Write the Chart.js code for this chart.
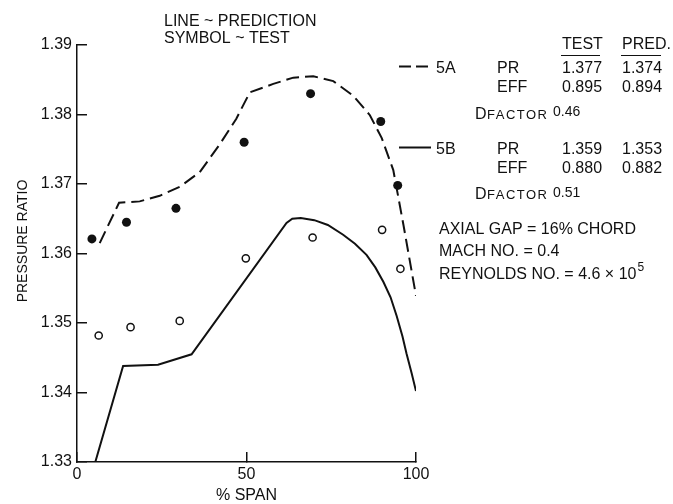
<!DOCTYPE html>
<html>
<head>
<meta charset="utf-8">
<script src="https://cdn.jsdelivr.net/npm/chart.js@4.4.0/dist/chart.umd.min.js"></script>
<style>
  html, body { margin: 0; padding: 0; background: #fff; }
  #wrap { width: 673px; height: 504px; }
</style>
</head>
<body>
<div id="wrap"><canvas id="prChart" width="673" height="504"></canvas></div>
<script>
// values: % span vs pressure ratio
const testSpan5A = [4.4, 14.6, 29.2, 49.3, 68.9, 89.6, 94.6];
const testPR5A = [1.3621, 1.3645, 1.3665, 1.3760, 1.3830, 1.3790, 1.3698];

const testSpan5B = [6.4, 15.8, 30.3, 49.8, 69.5, 90.0, 95.4];
const testPR5B = [1.3482, 1.3494, 1.3503, 1.3593, 1.3623, 1.3634, 1.3578];

const predSpan5A = [6.7, 12.4, 18.5, 24.4, 30.3, 36.2, 42.1, 47.0, 51.0, 57.9, 63.8, 69.7, 75.6, 81.5, 86.4, 89.9, 93.3, 96.3, 100];
const predPR5A = [1.3615, 1.3673, 1.3675, 1.3683, 1.3696, 1.3717, 1.3757, 1.3794, 1.3832, 1.3844, 1.3853, 1.3855, 1.3848, 1.3827, 1.3799, 1.3766, 1.3720, 1.3641, 1.3539];

const predSpan5B = [5.4, 13.6, 23.9, 33.8, 61.8, 63.5, 66.0, 70.0, 74.0, 78.5, 82.0, 85.4, 88.0, 90.4, 92.5, 94.3, 96.0, 97.2, 98.7, 100];
const predPR5B = [1.3300, 1.3438, 1.3440, 1.3455, 1.3644, 1.3650, 1.3651, 1.3648, 1.3641, 1.3627, 1.3614, 1.3598, 1.3580, 1.3559, 1.3537, 1.3510, 1.3481, 1.3456, 1.3428, 1.3402];

const spanTicks = [0, 50, 100];
const prTicks = [1.33, 1.34, 1.35, 1.36, 1.37, 1.38, 1.39];

const FONT = '"Liberation Sans", Arial, sans-serif';
const INK = '#111';

function pts(xs, ys) {
  return xs.map((x, i) => ({ x: x, y: ys[i] }));
}

function txt(ctx, s, x, y, size, align, spacing) {
  ctx.font = size + 'px ' + FONT;
  ctx.textAlign = align || 'left';
  ctx.letterSpacing = (spacing || 0) + 'px';
  ctx.fillText(s, x, y);
  ctx.letterSpacing = '0px';
}

function dFactor(ctx, value, baseline) {
  txt(ctx, 'D', 475, baseline, 16);
  txt(ctx, 'FACTOR', 487, baseline, 13, 'left', 1.5);
  txt(ctx, value, 553, baseline - 2.5, 14);
}

// text blocks around the plot
const annotations = {
  id: 'annotations',
  afterDraw(chart) {
    const ctx = chart.ctx;
    const xs = chart.scales.x;
    ctx.save();
    ctx.fillStyle = INK;
    ctx.strokeStyle = INK;
    ctx.textBaseline = 'alphabetic';

    txt(ctx, '% SPAN', (xs.left + xs.right) / 2, 500, 16, 'center');
    ctx.save();
    ctx.translate(27, 241);
    ctx.rotate(-Math.PI / 2);
    txt(ctx, 'PRESSURE RATIO', 0, 0, 14, 'center');
    ctx.restore();

    txt(ctx, 'LINE ~ PREDICTION', 164, 26, 16);
    txt(ctx, 'SYMBOL ~ TEST', 164, 42.5, 16);

    // table header
    txt(ctx, 'TEST', 562, 49, 16);
    txt(ctx, 'PRED.', 622, 49, 16);
    ctx.lineWidth = 1;
    ctx.beginPath();
    ctx.moveTo(561, 55.5); ctx.lineTo(600, 55.5);
    ctx.moveTo(621, 55.5); ctx.lineTo(661, 55.5);
    ctx.stroke();

    // 5A
    ctx.lineWidth = 2;
    ctx.setLineDash([12, 5]);
    ctx.beginPath();
    ctx.moveTo(399, 66.5); ctx.lineTo(431, 66.5);
    ctx.stroke();
    ctx.setLineDash([]);
    txt(ctx, '5A', 436, 72.5, 16);
    txt(ctx, 'PR', 497, 72.5, 16);
    txt(ctx, '1.377', 562, 72.5, 16);
    txt(ctx, '1.374', 622, 72.5, 16);
    txt(ctx, 'EFF', 497, 91.5, 16);
    txt(ctx, '0.895', 562, 91.5, 16);
    txt(ctx, '0.894', 622, 91.5, 16);
    dFactor(ctx, '0.46', 118.5);

    // 5B
    ctx.beginPath();
    ctx.moveTo(399, 147.5); ctx.lineTo(431, 147.5);
    ctx.stroke();
    txt(ctx, '5B', 436, 153.5, 16);
    txt(ctx, 'PR', 497, 153.5, 16);
    txt(ctx, '1.359', 562, 153.5, 16);
    txt(ctx, '1.353', 622, 153.5, 16);
    txt(ctx, 'EFF', 497, 172.5, 16);
    txt(ctx, '0.880', 562, 172.5, 16);
    txt(ctx, '0.882', 622, 172.5, 16);
    dFactor(ctx, '0.51', 199);

    // test conditions
    txt(ctx, 'AXIAL GAP = 16% CHORD', 439, 233.5, 16);
    txt(ctx, 'MACH NO. = 0.4', 439, 256, 16);
    const rey = 'REYNOLDS NO. = 4.6 \u00d7 10';
    txt(ctx, rey, 439, 278.5, 16);
    ctx.font = '16px ' + FONT;
    const w = ctx.measureText(rey).width;
    txt(ctx, '5', 439 + w + 1, 271, 12);

    ctx.restore();
  }
};

new Chart(document.getElementById('prChart'), {
  type: 'scatter',
  data: {
    datasets: [
      {
        label: '5A pred',
        data: pts(predSpan5A, predPR5A),
        showLine: true,
        borderColor: INK,
        borderWidth: 2,
        borderDash: [13, 6],
        pointRadius: 0,
        tension: 0
      },
      {
        label: '5B pred',
        data: pts(predSpan5B, predPR5B),
        showLine: true,
        borderColor: INK,
        borderWidth: 2,
        pointRadius: 0,
        tension: 0
      },
      {
        label: '5A test',
        data: pts(testSpan5A, testPR5A),
        pointRadius: 4.5,
        backgroundColor: INK,
        borderColor: INK,
        borderWidth: 0
      },
      {
        label: '5B test',
        data: pts(testSpan5B, testPR5B),
        pointRadius: 3.6,
        backgroundColor: '#fff',
        borderColor: INK,
        borderWidth: 1.5
      }
    ]
  },
  options: {
    responsive: false,
    animation: false,
    events: [],
    layout: { padding: { top: 45, right: 257, left: 0, bottom: 0 } },
    plugins: {
      legend: { display: false },
      tooltip: { enabled: false }
    },
    scales: {
      x: {
        type: 'linear',
        min: 0,
        max: 100,
        afterFit: s => { s.height = 42; },
        afterBuildTicks: s => { s.ticks = spanTicks.map(v => ({ value: v })); },
        border: { display: true, color: INK, width: 1.5 },
        grid: { drawOnChartArea: false, drawTicks: true, tickLength: -10, color: INK, lineWidth: 1.5 },
        ticks: {
          color: INK,
          font: { family: FONT, size: 16 },
          padding: 13,
          maxRotation: 0,
          callback: v => String(v)
        }
      },
      y: {
        type: 'linear',
        min: 1.33,
        max: 1.39,
        afterFit: s => { s.width = 77; },
        afterBuildTicks: s => { s.ticks = prTicks.map(v => ({ value: v })); },
        border: { display: true, color: INK, width: 1.5 },
        grid: { drawOnChartArea: false, drawTicks: true, tickLength: -10, color: INK, lineWidth: 1.5 },
        ticks: {
          color: INK,
          font: { family: FONT, size: 16 },
          padding: 15,
          callback: v => Number(v).toFixed(2)
        }
      }
    }
  },
  plugins: [annotations]
});
</script>
</body>
</html>
